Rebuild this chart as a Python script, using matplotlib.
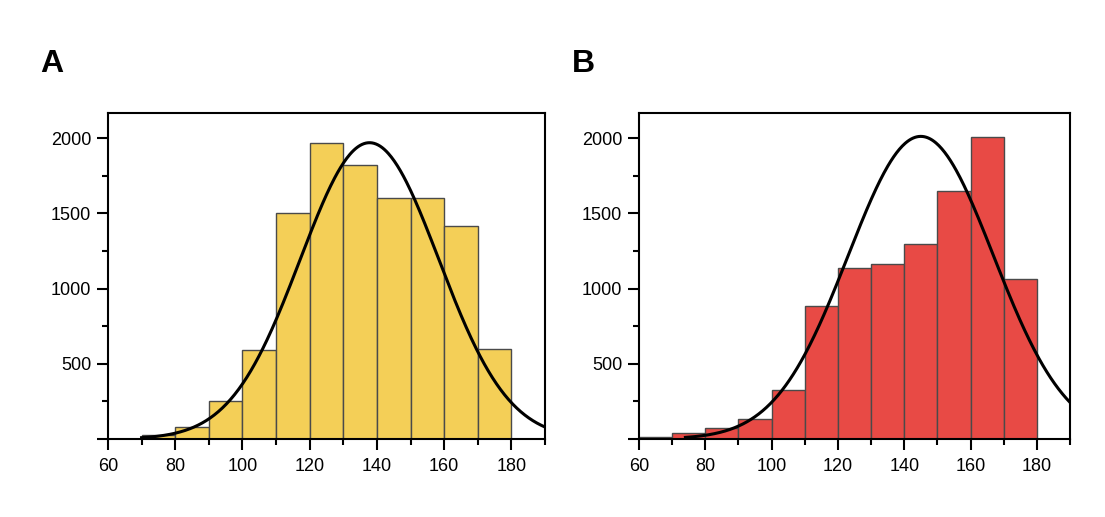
import numpy as np
import matplotlib.pyplot as plt
from matplotlib.ticker import MultipleLocator

plt.rcParams['font.family'] = ['Liberation Sans', 'DejaVu Sans']

bin_edges = [60, 70, 80, 90, 100, 110, 120, 130, 140, 150, 160, 170, 180]

counts_a = [0, 28, 80, 252, 590, 1502, 1967, 1823, 1600, 1602, 1414, 600]
counts_b = [12, 38, 71, 130, 325, 887, 1139, 1166, 1294, 1646, 2007, 1066]

# fitted normal curves: (mean, sd, peak height, start of curve)
fit_a = (137.8, 20.6, 1969, 70)
fit_b = (145.0, 21.9, 2011, 74)

color_a = '#F4CF57'
color_b = '#E84A45'


def panel(ax, counts, fit, color, letter):
    left = bin_edges[:-1]
    width = np.diff(bin_edges)
    ax.bar(left, counts, width=width, align='edge', color=color,
           edgecolor='#4a4a4a', linewidth=1.0, zorder=2)
    mu, sd, peak, x0 = fit
    xs = np.linspace(x0, 190, 400)
    ax.plot(xs, peak * np.exp(-0.5 * ((xs - mu) / sd) ** 2),
            color='black', linewidth=2.2, zorder=3)

    ax.set_xlim(60, 190)
    ax.set_ylim(0, 2168)
    ax.set_xticks([60, 80, 100, 120, 140, 160, 180])
    ax.xaxis.set_minor_locator(MultipleLocator(10))
    ax.set_yticks([0, 500, 1000, 1500, 2000])
    ax.set_yticklabels(['', '500', '1000', '1500', '2000'])
    ax.yaxis.set_minor_locator(MultipleLocator(250))
    ax.tick_params(which='major', length=8, width=1.5, labelsize=13,
                   direction='out', pad=4)
    ax.tick_params(which='minor', length=4.5, width=1.5, direction='out')
    ax.tick_params(axis='x', pad=6)
    for s in ax.spines.values():
        s.set_linewidth(1.5)
    ax.text(-0.155, 1.148, letter, transform=ax.transAxes, fontsize=23,
            fontweight='bold', ha='left', va='center')


fig = plt.figure(figsize=(11.05, 5.17), dpi=100)
ax1 = fig.add_axes([0.0977, 0.1509, 0.3955, 0.631])
ax2 = fig.add_axes([0.5783, 0.1509, 0.3900, 0.631])

panel(ax1, counts_a, fit_a, color_a, 'A')
panel(ax2, counts_b, fit_b, color_b, 'B')

fig.savefig('out.png', dpi=100)
